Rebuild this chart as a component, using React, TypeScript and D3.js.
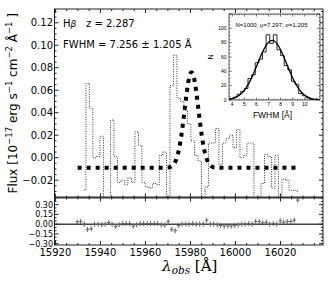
import React, { useEffect, useRef } from 'react';
import * as d3 from 'd3';

// spectrum: observed wavelength (Å) and flux of each pixel
const WAVE = [
  15932.8, 15934.3, 15935.9, 15937.4, 15939.0, 15940.6, 15942.1, 15943.7, 15945.2, 15946.8,
  15948.3, 15949.9, 15951.4, 15953.0, 15954.6, 15956.1, 15957.7, 15959.2, 15960.8, 15962.3,
  15963.9, 15965.4, 15967.0, 15968.6, 15970.1, 15971.7, 15973.2, 15974.8, 15976.3, 15977.9,
  15979.4, 15981.0, 15982.6, 15984.1, 15985.7, 15987.2, 15988.8, 15990.3, 15991.9, 15993.4,
  15995.0, 15996.6, 15998.1, 15999.7, 16001.2, 16002.8, 16004.3, 16005.9, 16007.4, 16009.0,
  16010.6, 16012.1, 16013.7, 16015.2, 16016.8, 16018.3, 16019.9, 16021.4, 16023.0, 16024.6,
  16026.1, 16027.7,
];
const FLUX = [
  -0.029, 0.066, 0.044, 0.0, 0.001, 0.019, -0.04, -0.04, 0.0335, 0.001,
  -0.022, -0.02, -0.024, -0.018, -0.022, 0.023, 0.011, -0.022, -0.026, -0.027,
  -0.023, -0.024, 0.002, 0.005, -0.04, 0.064, 0.091, 0.053, 0.05, 0.042,
  0.03, 0.015, 0.002, -0.003, -0.04, -0.026, 0.013, 0.013, 0.026, -0.006,
  0.013, 0.017, 0.02, 0.009, 0.025, 0.0, 0.002, 0.013, 0.013, -0.04,
  -0.04, -0.023, 0.003, 0.001, -0.027, 0.002, -0.036, -0.019, -0.02, -0.029,
  -0.029, -0.03,
];

// gaussian fit
const FIT_WAVE = [
  15929.9, 15965, 15970, 15971, 15972, 15973, 15974, 15975, 15976, 15977, 15978, 15979, 15980,
  15980.5, 15981, 15982, 15983, 15984, 15985, 15986, 15987, 15988, 15989, 15990, 15991, 15996, 16028.8,
];
const FIT_FLUX = [
  -0.009, -0.009, -0.0087, -0.0083, -0.0071, -0.0046, 0.0002, 0.0083, 0.0203, 0.0356, 0.0522, 0.0665, 0.0749,
  0.076, 0.0749, 0.0665, 0.0522, 0.0356, 0.0203, 0.0083, 0.0002, -0.0046, -0.0071, -0.0083, -0.0087, -0.009, -0.009,
];

// residuals (lower panel)
const RESID_WAVE = [15929.7, 15931.2, ...WAVE];
const RESID = [
  0.035, 0.04, 0.0, -0.08, -0.07, 0.0, 0.0, -0.01, 0.0, 0.025,
  0.0, -0.035, -0.01, 0.01, 0.01, 0.01, -0.03, -0.01, 0.01, 0.01,
  0.01, 0.01, 0.01, 0.01, -0.01, -0.015, 0.04, -0.08, -0.1, -0.02,
  0.0, 0.0, 0.0, 0.01, 0.0, 0.0, 0.0, 0.06, 0.0, 0.0,
  -0.01, -0.02, -0.03, -0.025, -0.03, -0.02, -0.01, 0.0, 0.0, 0.01,
  0.0, 0.04, 0.04, 0.02, 0.03, 0.0, 0.01, 0.0, 0.05, 0.03,
  0.04, 0.04, 0.06, 0.37,
];
const RESID_ERR = 0.04;

// inset: FWHM histogram of 1000 realisations
const HIST_EDGES = [
  3.8, 4.1, 4.4, 4.7, 5.0, 5.3, 5.6, 5.9, 6.2, 6.5, 6.8, 7.1, 7.4, 7.7, 8.0, 8.3, 8.6, 8.9,
  9.2, 9.5, 9.8, 10.1, 10.4, 10.7,
];
const HIST_COUNTS = [2, 4, 8, 12, 16, 30, 35, 52, 57, 67, 91, 79, 91, 70, 62, 48, 42, 26, 22, 9, 6, 3, 1];
const CURVE_X = [3.75, 4.0, 4.5, 5.0, 5.5, 6.0, 6.5, 7.0, 7.3, 7.5, 8.0, 8.5, 9.0, 9.5, 10.0, 10.5, 11.0, 11.24];
const CURVE_N = [1.1, 2.0, 5.6, 13.5, 27.4, 46.6, 66.9, 80.7, 83.2, 82.0, 70.2, 50.5, 30.7, 15.6, 6.7, 2.4, 0.7, 0.4];

const X_TICKS = [15920, 15940, 15960, 15980, 16000, 16020];
const Y_TICKS = [-0.02, 0.0, 0.02, 0.04, 0.06, 0.08, 0.1, 0.12];
const R_TICKS = [-0.3, -0.15, 0.0, 0.15, 0.3];
const INSET_X_TICKS = [4, 5, 6, 7, 8, 9, 10];
const INSET_Y_TICKS = [0, 20, 40, 60, 80, 100];

const W = 334;
const H = 284;
const M = { left: 54.5, right: 323, top: 9, mid: 197.5, bottom: 245 };
const INSET = { left: 229, right: 320, top: 14, bottom: 100 };
const FONT = 'DejaVu Sans, sans-serif';
const IFONT = 'Liberation Sans, Arial, sans-serif';

const fmt = (v: number) => d3.format('.2f')(v).replace('-', '\u2212');

const App = () => {
  const ref = useRef<SVGSVGElement>(null);

  useEffect(() => {
    const svg = d3.select(ref.current);
    svg.selectAll('*').remove();

    const x = d3.scaleLinear().domain([15919.6, 16038.9]).range([M.left, M.right]);
    const y = d3.scaleLinear().domain([-0.0354, 0.1322]).range([M.mid, M.top]);
    const r = d3.scaleLinear().domain([-0.32, 0.41]).range([M.bottom, M.mid]);

    const defs = svg.append('defs');
    defs.append('clipPath').attr('id', 'main-clip').append('rect')
      .attr('x', M.left).attr('y', M.top).attr('width', M.right - M.left).attr('height', M.mid - M.top);
    defs.append('clipPath').attr('id', 'inset-clip').append('rect')
      .attr('x', INSET.left).attr('y', INSET.top)
      .attr('width', INSET.right - INSET.left).attr('height', INSET.bottom - INSET.top);

    // ---- main panel ----
    const main = svg.append('g').attr('clip-path', 'url(#main-clip)');
    const specLine = d3.line<[number, number]>().x(d => x(d[0])).y(d => y(d[1])).curve(d3.curveStep);
    main.append('path')
      .datum(WAVE.map((w, i) => [w, FLUX[i]] as [number, number]))
      .attr('d', specLine)
      .attr('fill', 'none').attr('stroke', '#333').attr('stroke-width', 1)
      .attr('stroke-dasharray', '1,1.4');

    const fitLine = d3.line<[number, number]>().x(d => x(d[0])).y(d => y(d[1])).curve(d3.curveMonotoneX);
    main.append('path')
      .datum(FIT_WAVE.map((w, i) => [w, FIT_FLUX[i]] as [number, number]))
      .attr('d', fitLine)
      .attr('fill', 'none').attr('stroke', '#000').attr('stroke-width', 4)
      .attr('stroke-dasharray', '4,5');

    // ---- residual panel ----
    svg.append('line').attr('x1', M.left).attr('x2', M.right).attr('y1', r(0)).attr('y2', r(0))
      .attr('stroke', '#444').attr('stroke-width', 1.5);
    const res = svg.append('g').attr('stroke', '#666').attr('stroke-width', 1);
    const half = 0.78;
    RESID_WAVE.forEach((w, i) => {
      const cy = r(Math.min(RESID[i], 0.4));
      res.append('line').attr('x1', x(w - half)).attr('x2', x(w + half)).attr('y1', cy).attr('y2', cy);
      res.append('line').attr('x1', x(w)).attr('x2', x(w))
        .attr('y1', r(RESID[i] - RESID_ERR)).attr('y2', r(Math.min(RESID[i] + RESID_ERR, 0.41)));
    });

    // ---- frames and ticks ----
    const axes = svg.append('g').attr('stroke', '#222').attr('stroke-width', 1).attr('fill', 'none');
    axes.append('rect').attr('x', M.left).attr('y', M.top).attr('width', M.right - M.left).attr('height', M.mid - M.top);
    axes.append('rect').attr('x', M.left).attr('y', M.mid).attr('width', M.right - M.left).attr('height', M.bottom - M.mid);
    axes.append('line').attr('x1', M.left).attr('x2', M.right).attr('y1', M.mid).attr('y2', M.mid)
      .attr('stroke-width', 2.2).attr('stroke', '#333');

    const xMinor = d3.range(15920, 16039, 5);
    [[M.top, M.mid], [M.mid, M.bottom]].forEach(([t, b]) => {
      xMinor.forEach(v => {
        const len = X_TICKS.includes(v) ? 4 : 2;
        axes.append('line').attr('x1', x(v)).attr('x2', x(v)).attr('y1', b).attr('y2', b - len);
        axes.append('line').attr('x1', x(v)).attr('x2', x(v)).attr('y1', t).attr('y2', t + len);
      });
    });
    d3.range(-0.035, 0.1321, 0.005).forEach(v => {
      const vv = Math.round(v * 1000) / 1000;
      const major = Y_TICKS.some(t => Math.abs(t - vv) < 1e-6);
      const len = major ? 4 : 2;
      axes.append('line').attr('x1', M.left).attr('x2', M.left + len).attr('y1', y(vv)).attr('y2', y(vv));
      axes.append('line').attr('x1', M.right).attr('x2', M.right - len).attr('y1', y(vv)).attr('y2', y(vv));
    });
    d3.range(-0.3, 0.401, 0.05).forEach(v => {
      const vv = Math.round(v * 100) / 100;
      const major = R_TICKS.some(t => Math.abs(t - vv) < 1e-6);
      const len = major ? 4 : 2;
      axes.append('line').attr('x1', M.left).attr('x2', M.left + len).attr('y1', r(vv)).attr('y2', r(vv));
      axes.append('line').attr('x1', M.right).attr('x2', M.right - len).attr('y1', r(vv)).attr('y2', r(vv));
    });

    // tick labels
    const lab = svg.append('g').attr('font-family', FONT).attr('fill', '#000');
    Y_TICKS.forEach(v => {
      lab.append('text').attr('x', M.left - 1.5).attr('y', y(v)).attr('dy', '0.36em')
        .attr('text-anchor', 'end').attr('font-size', 10).text(fmt(v));
    });
    R_TICKS.forEach(v => {
      lab.append('text').attr('x', M.left - 1.5).attr('y', r(v)).attr('dy', '0.36em')
        .attr('text-anchor', 'end').attr('font-size', 8).text(fmt(v));
    });
    X_TICKS.forEach(v => {
      lab.append('text').attr('x', x(v)).attr('y', 256)
        .attr('text-anchor', 'middle').attr('font-size', 10).text(v);
    });

    // axis titles
    const yl = svg.append('text').attr('transform', `translate(17,${(M.top + M.mid) / 2}) rotate(-90)`)
      .attr('text-anchor', 'middle').attr('font-family', FONT).attr('font-size', 12);
    const parts: [string, boolean][] = [
      ['Flux [10', false], ['\u221217', true], [' erg s', false], ['\u22121', true],
      [' cm', false], ['\u22122', true], [' \u00c5', false], ['\u22121', true], [' ]', false],
    ];
    parts.forEach(([t, sup], i) => {
      const prevSup = i > 0 && parts[i - 1][1];
      yl.append('tspan').attr('dy', sup ? -5 : prevSup ? 5 : 0)
        .attr('font-size', sup ? 8.5 : 12).text(t);
    });

    const xl = svg.append('text').attr('x', (M.left + M.right) / 2 + 1).attr('y', 271)
      .attr('text-anchor', 'middle').attr('font-family', 'DejaVu Serif, serif').attr('font-size', 15);
    xl.append('tspan').attr('font-style', 'italic').text('\u03bb');
    xl.append('tspan').attr('font-style', 'italic').attr('font-size', 10.5).attr('dy', 3).text('obs');
    xl.append('tspan').attr('dy', -3).text(' [\u00c5]');

    // annotations
    const ann = svg.append('g').attr('font-family', FONT).attr('font-size', 10).attr('fill', '#000');
    const hb = ann.append('text').attr('x', 63).attr('y', 27);
    hb.append('tspan').text('H');
    hb.append('tspan').attr('font-style', 'italic').attr('font-size', 9).text('\u03b2');
    ann.append('text').attr('x', 86).attr('y', 27).text('z = 2.287');
    ann.append('text').attr('x', 63).attr('y', 48).text('FWHM = 7.256 \u00b1 1.205 \u00c5');

    // ---- inset ----
    const ix = d3.scaleLinear().domain([3.73, 11.26]).range([INSET.left, INSET.right]);
    const iy = d3.scaleLinear().domain([0, 120]).range([INSET.bottom, INSET.top]);
    const inset = svg.append('g');
    inset.append('rect').attr('x', INSET.left).attr('y', INSET.top)
      .attr('width', INSET.right - INSET.left).attr('height', INSET.bottom - INSET.top)
      .attr('fill', '#fff');
    const ic = inset.append('g').attr('clip-path', 'url(#inset-clip)');
    const histPts: [number, number][] = [[HIST_EDGES[0], 0]];
    HIST_COUNTS.forEach((c, i) => {
      histPts.push([HIST_EDGES[i], c]);
      histPts.push([HIST_EDGES[i + 1], c]);
    });
    histPts.push([HIST_EDGES[HIST_EDGES.length - 1], 0]);
    ic.append('path').datum(histPts)
      .attr('d', d3.line<[number, number]>().x(d => ix(d[0])).y(d => iy(d[1])))
      .attr('fill', 'none').attr('stroke', '#111').attr('stroke-width', 0.9);
    ic.append('path').datum(CURVE_X.map((v, i) => [v, CURVE_N[i]] as [number, number]))
      .attr('d', d3.line<[number, number]>().x(d => ix(d[0])).y(d => iy(d[1])).curve(d3.curveMonotoneX))
      .attr('fill', 'none').attr('stroke', '#000').attr('stroke-width', 1.3);

    const it = inset.append('g').attr('stroke', '#222').attr('stroke-width', 0.7).attr('fill', 'none');
    it.append('rect').attr('x', INSET.left).attr('y', INSET.top)
      .attr('width', INSET.right - INSET.left).attr('height', INSET.bottom - INSET.top);
    d3.range(3.8, 11.25, 0.2).forEach(v => {
      const vv = Math.round(v * 10) / 10;
      const len = Math.abs(vv - Math.round(vv)) < 1e-6 ? 2.5 : 1.2;
      it.append('line').attr('x1', ix(vv)).attr('x2', ix(vv)).attr('y1', INSET.bottom).attr('y2', INSET.bottom - len);
      it.append('line').attr('x1', ix(vv)).attr('x2', ix(vv)).attr('y1', INSET.top).attr('y2', INSET.top + len);
    });
    d3.range(0, 121, 5).forEach(v => {
      const len = v % 20 === 0 ? 2.5 : 1.2;
      it.append('line').attr('x1', INSET.left).attr('x2', INSET.left + len).attr('y1', iy(v)).attr('y2', iy(v));
      it.append('line').attr('x1', INSET.right).attr('x2', INSET.right - len).attr('y1', iy(v)).attr('y2', iy(v));
    });

    const il = inset.append('g').attr('font-family', IFONT).attr('fill', '#000');
    INSET_X_TICKS.forEach(v => {
      il.append('text').attr('x', ix(v)).attr('y', 106).attr('text-anchor', 'middle').attr('font-size', 5).text(v);
    });
    INSET_Y_TICKS.forEach(v => {
      il.append('text').attr('x', INSET.left - 2.5).attr('y', iy(v)).attr('dy', '0.35em')
        .attr('text-anchor', 'end').attr('font-size', 5).text(v);
    });
    il.append('text').attr('x', (INSET.left + INSET.right) / 2 - 2).attr('y', 118)
      .attr('text-anchor', 'middle').attr('font-size', 8.5).text('FWHM [\u00c5]');
    il.append('text').attr('transform', `translate(213,${(INSET.top + INSET.bottom) / 2}) rotate(-90)`)
      .attr('text-anchor', 'middle').attr('font-size', 7).text('N');
    il.append('text').attr('x', (INSET.left + INSET.right) / 2 - 3).attr('y', 27)
      .attr('text-anchor', 'middle').attr('font-size', 6).text('N=1000, \u03bc=7.297, \u03c3=1.205');
  }, []);

  return (
    <svg
      ref={ref}
      width={W}
      height={H}
      style={{ position: 'absolute', left: 0, top: 0, background: '#fff' }}
    />
  );
};

export default App;
